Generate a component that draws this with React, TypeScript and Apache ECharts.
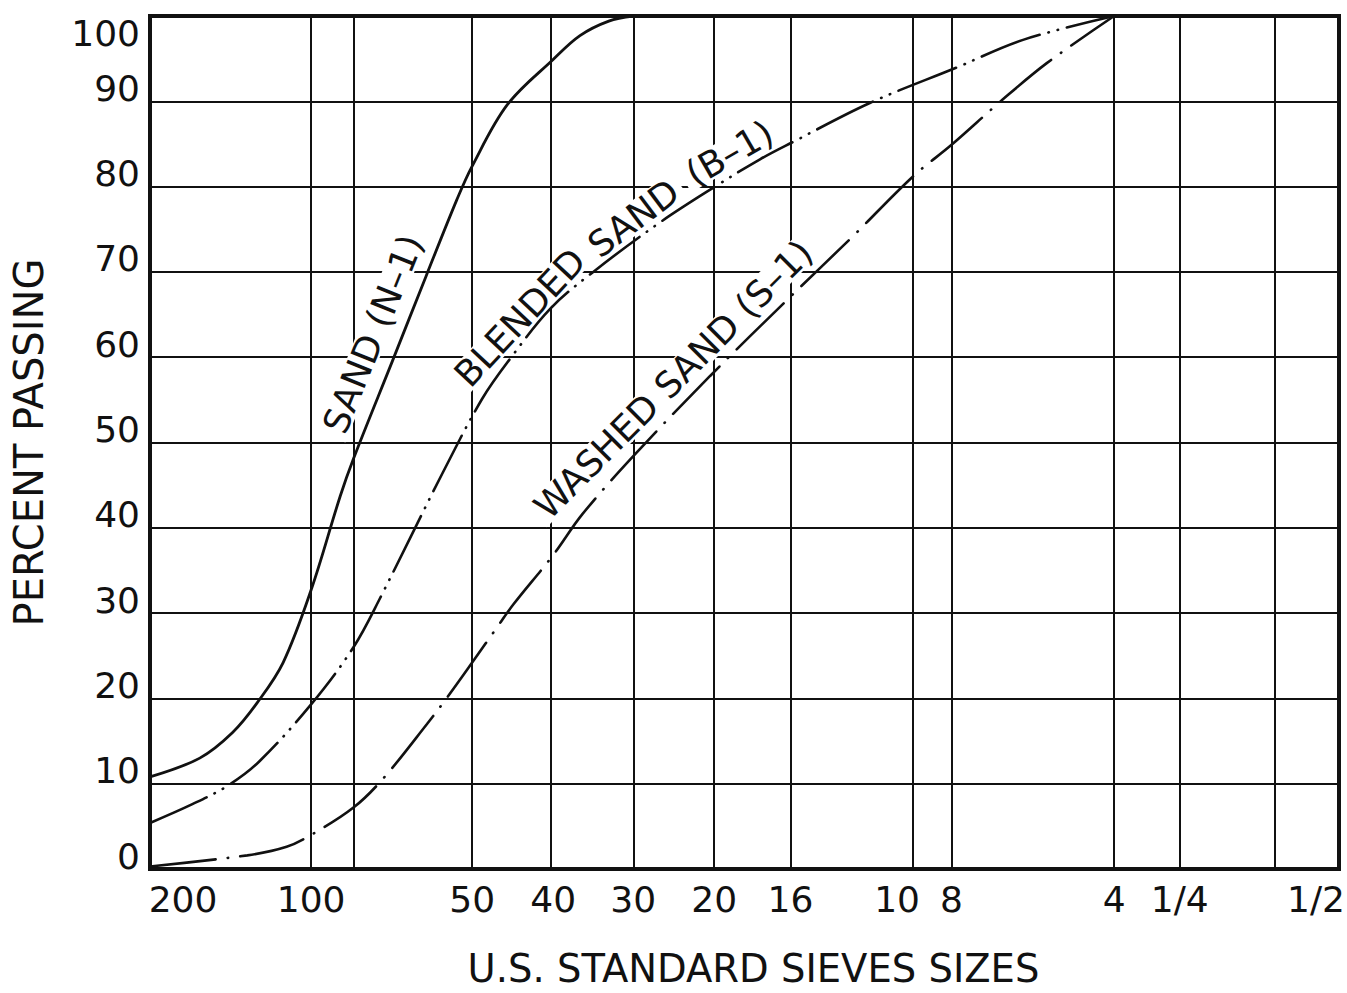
import React, { useEffect, useRef } from "react";
import * as echarts from "echarts";

// U.S. standard sieves, with their openings in millimetres (log axis)
const SIEVE_OPENINGS_MM = [0.075, 0.15, 0.18, 0.3, 0.425, 0.6, 0.85, 1.18, 2.0, 2.36, 4.75, 6.3, 9.5, 12.5];
const SIEVE_LABELS = ["200", "100", "", "50", "40", "30", "20", "16", "10", "8", "4", "1/4", "", "1/2"];

// Sand (N-1): opening (mm) / percent passing
const SAND_N1_MM = [0.075, 0.0929, 0.107, 0.119, 0.133, 0.15, 0.17, 0.18, 0.213, 0.246, 0.281, 0.3, 0.349, 0.425, 0.477, 0.54, 0.6];
const SAND_N1_PASSING = [10.8, 13.0, 16.0, 19.5, 24.2, 32.7, 43.7, 48.1, 59.6, 69.5, 78.5, 82.4, 89.6, 94.9, 97.7, 99.4, 100];

// Blended sand (B-1)
const BLENDED_B1_MM = [0.075, 0.09, 0.105, 0.12, 0.15, 0.18, 0.202, 0.265, 0.313, 0.353, 0.42, 0.505, 0.673, 0.853, 1.035, 1.19, 1.66, 2.42, 3.21, 4.75];
const BLENDED_B1_PASSING = [5.4, 7.6, 9.8, 12.6, 19.3, 26.0, 31.8, 46.6, 55.1, 59.8, 65.7, 70.0, 75.8, 80.0, 83.2, 85.2, 89.8, 94.0, 97.2, 100];

// Washed sand (S-1)
const WASHED_S1_MM = [0.075, 0.114, 0.135, 0.15, 0.18, 0.2045, 0.247, 0.27, 0.3, 0.331, 0.358, 0.425, 0.482, 0.6, 0.835, 1.18, 1.545, 2.0, 2.36, 2.94, 3.56, 4.75];
const WASHED_S1_PASSING = [0.3, 1.6, 2.6, 4.0, 7.2, 10.6, 17.0, 20.2, 24.2, 28.0, 31.0, 36.8, 41.6, 48.4, 57.8, 67.1, 74.2, 81.2, 84.9, 90.2, 94.5, 100];

// Hand-lettered captions, laid piece by piece along the curves:
// a point on the curve (mm, percent), the slant of the lettering, and its offset from the curve (px)
const CAPTION_TEXTS = ["SAND (N–1)", "BLENDED", "SAND", "(B–1)", "WASHED SAND (S–1)"];
const CAPTION_MM = [0.219, 0.39, 0.631, 0.95, 0.767];
const CAPTION_PASSING = [61.5, 63.2, 74.5, 81.8, 55.4];
const CAPTION_ANGLES = [68, 47, 37, 30, 45];
const CAPTION_LIFT = [28, 18, 19, 21, 24];

const FONT = "DejaVu Sans";
const INK = "#111";
const TEXT_SIZE = 36;

// horizontal nudges (px) for crowded / edge sieve labels
const SIEVE_LABEL_SHIFT: Record<string, number> = { "200": 33, "10": -16, "1/2": -23 };

const pairs = (xs: number[], ys: number[]) => xs.map((x, i) => [x, ys[i]]);

function measure(text: string, size: number) {
  const ctx = document.createElement("canvas").getContext("2d");
  if (!ctx) return text.length * size * 0.62;
  ctx.font = `${size}px "${FONT}"`;
  return ctx.measureText(text).width;
}

export default function App() {
  const ref = useRef<HTMLDivElement>(null);

  useEffect(() => {
    if (!ref.current) return;
    const chart = echarts.init(ref.current, null, { renderer: "svg" });

    const curveBase = {
      type: "line",
      showSymbol: false,
      symbol: "none",
      smooth: 0.35,
      z: 4,
      silent: true,
    };

    chart.setOption({
      animation: false,
      backgroundColor: "#fff",
      grid: {
        left: 150,
        right: 8,
        top: 16,
        bottom: 121,
        show: true,
        borderColor: INK,
        borderWidth: 4,
        backgroundColor: "transparent",
      },
      xAxis: {
        type: "log",
        logBase: 10,
        min: SIEVE_OPENINGS_MM[0],
        max: SIEVE_OPENINGS_MM[SIEVE_OPENINGS_MM.length - 1],
        axisLabel: { show: false },
        axisTick: { show: false },
        splitLine: { show: false },
        minorSplitLine: { show: false },
        axisLine: { show: true, lineStyle: { color: INK, width: 4 } },
        name: "U.S. STANDARD SIEVES SIZES",
        nameLocation: "middle",
        nameGap: 80,
        nameTextStyle: { fontFamily: FONT, fontSize: 38.5, color: INK, padding: [0, 0, 0, 18] },
      },
      yAxis: [
        {
          type: "value",
          min: 0,
          max: 100,
          interval: 10,
          axisLine: { show: true, lineStyle: { color: INK, width: 4 } },
          axisTick: { show: false },
          splitLine: { show: true, lineStyle: { color: INK, width: 2 } },
          axisLabel: {
            fontFamily: FONT,
            fontSize: TEXT_SIZE,
            color: INK,
            margin: 10,
            verticalAlign: "bottom",
            lineHeight: 26,
            formatter: (v: number) => (v === 100 ? "" : String(v)),
          },
          name: "PERCENT PASSING",
          nameLocation: "middle",
          nameRotate: 90,
          nameGap: 101,
          nameTextStyle: { fontFamily: FONT, fontSize: 40, color: INK },
        },
        {
          type: "value",
          position: "left",
          min: 0,
          max: 100,
          interval: 10,
          axisLine: { show: false },
          axisTick: { show: false },
          splitLine: { show: false },
          axisLabel: {
            fontFamily: FONT,
            fontSize: TEXT_SIZE,
            color: INK,
            margin: 10,
            verticalAlign: "top",
            lineHeight: 26,
            padding: [4, 0, 0, 0],
            formatter: (v: number) => (v === 100 ? "100" : ""),
          },
        },
      ],
      series: [
        {
          ...curveBase,
          name: "SAND (N-1)",
          data: pairs(SAND_N1_MM, SAND_N1_PASSING),
          lineStyle: { color: INK, width: 2.8, type: "solid" },
          // one vertical rule per sieve
          markLine: {
            silent: true,
            z: 1,
            symbol: ["none", "none"],
            animation: false,
            lineStyle: { color: INK, width: 2, type: "solid" },
            label: { show: false },
            data: SIEVE_OPENINGS_MM.map((mm, i) => ({ xAxis: mm, name: SIEVE_LABELS[i] })),
          },
        },
        {
          ...curveBase,
          name: "BLENDED SAND (B-1)",
          data: pairs(BLENDED_B1_MM, BLENDED_B1_PASSING),
          lineStyle: { color: INK, width: 2.6, type: [62, 9, 0.5, 9, 0.5, 9], cap: "round" },
        },
        {
          ...curveBase,
          name: "WASHED SAND (S-1)",
          data: pairs(WASHED_S1_MM, WASHED_S1_PASSING),
          lineStyle: { color: INK, width: 2.6, type: [66, 12, 0.5, 12], cap: "round" },
        },
      ],
    });

    const toPx = (mm: number, v: number) =>
      chart.convertToPixel({ xAxisIndex: 0, yAxisIndex: 0 }, [mm, v]) as number[];

    // sieve numbers under the axis
    const sieveLabels = SIEVE_OPENINGS_MM.map((mm, i) => ({ mm, text: SIEVE_LABELS[i] }))
      .filter((d) => d.text)
      .map((d) => {
        const [px, py] = toPx(d.mm, 0);
        return {
          type: "text",
          x: px + (SIEVE_LABEL_SHIFT[d.text] || 0),
          y: py + 30,
          silent: true,
          z: 5,
          style: {
            text: d.text,
            fontFamily: FONT,
            fontSize: TEXT_SIZE,
            fill: INK,
            align: "center",
            verticalAlign: "middle",
          },
        };
      });

    // captions: slanted text on a white plate, set just off each curve
    const captions = CAPTION_TEXTS.map((text, i) => {
      const [cx, cy] = toPx(CAPTION_MM[i], CAPTION_PASSING[i]);
      const a = (CAPTION_ANGLES[i] * Math.PI) / 180;
      const lift = CAPTION_LIFT[i];
      const w = measure(text, TEXT_SIZE) + 12;
      return {
        type: "group",
        x: cx - Math.sin(a) * lift,
        y: cy - Math.cos(a) * lift,
        rotation: a,
        silent: true,
        children: [
          {
            type: "rect",
            z: 3,
            shape: { x: -w / 2, y: -15, width: w, height: 30 },
            style: { fill: "#fff" },
          },
          {
            type: "text",
            z: 3,
            style: {
              text,
              fontFamily: FONT,
              fontSize: TEXT_SIZE,
              fill: INK,
              align: "center",
              verticalAlign: "middle",
            },
          },
        ],
      };
    });

    chart.setOption({ graphic: { elements: [...sieveLabels, ...captions] } });

    return () => chart.dispose();
  }, []);

  return (
    <div
      ref={ref}
      style={{ position: "absolute", left: 0, top: 0, width: 1347, height: 993, background: "#fff" }}
    />
  );
}
